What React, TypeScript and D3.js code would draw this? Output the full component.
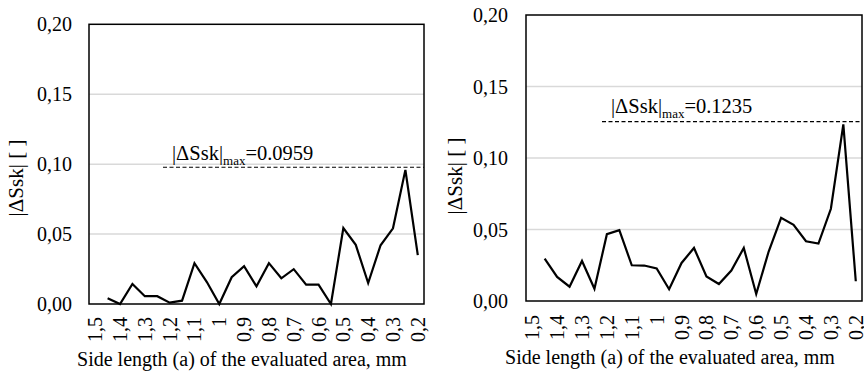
import React from "react";
import * as d3 from "d3";

const categories = ["1,5","1,45","1,4","1,35","1,3","1,25","1,2","1,15","1,1","1,05","1","0,95","0,9","0,85","0,8","0,75","0,7","0,65","0,6","0,55","0,5","0,45","0,4","0,35","0,3","0,25","0,2"];
const leftValues: (number | null)[] = [null,0.0041,0.0,0.0143,0.0056,0.0056,0.001,0.0024,0.0292,0.0157,0.0,0.0191,0.0271,0.0126,0.0292,0.0184,0.0249,0.0138,0.0138,0.0,0.0543,0.0423,0.015,0.042,0.0541,0.0959,0.035];
const rightValues: (number | null)[] = [null,0.0297,0.0168,0.01,0.028,0.0086,0.0467,0.0495,0.025,0.0248,0.0227,0.0082,0.0266,0.0371,0.0171,0.0119,0.0213,0.0371,0.0049,0.0346,0.0582,0.0533,0.0418,0.0402,0.0645,0.1235,0.0138];
const yTicks = [0, 0.05, 0.1, 0.15, 0.2];
const maxLabels = ["0.0959", "0.1235"];
const maxLevels = [0.0978, 0.1254];

const FONT = "Liberation Serif, Tinos, DejaVu Serif, Noto Serif, Times New Roman, serif";

type PanelProps = {
  values: (number | null)[];
  x0: number; x1: number; y0: number; y1: number;
  yLabelX: number; titleX: number; titleY: number; xTitleX: number; xTitleY: number; xLabelGap: number;
  maxLabel: string; maxLevel: number; dashStart: number; labelX: number; labelY: number;
};

function Panel(p: PanelProps) {
  const x = d3.scaleBand<string>().domain(categories).range([p.x0, p.x1]);
  const y = d3.scaleLinear().domain([0, 0.2]).range([p.y1, p.y0]);
  const cx = (c: string) => (x(c) as number) + x.bandwidth() / 2;
  const pts = categories.map((c, i) => ({ c, v: p.values[i] }));
  const line = d3.line<{ c: string; v: number | null }>()
    .defined(d => d.v !== null)
    .x(d => cx(d.c))
    .y(d => y(d.v as number));
  return (
    <g style={{ fontFamily: FONT }}>
      {yTicks.filter(t => t > 0 && t < 0.2).map(t => (
        <line key={t} x1={p.x0} x2={p.x1} y1={y(t)} y2={y(t)} stroke="#d9d9d9" strokeWidth={1.5} />
      ))}
      <line x1={p.dashStart} x2={p.x1} y1={y(p.maxLevel)} y2={y(p.maxLevel)} stroke="#000" strokeWidth={1.2} strokeDasharray="4,2.5" />
      <path d={line(pts) || ""} fill="none" stroke="#000" strokeWidth={2.2} strokeLinejoin="miter" />
      <rect x={p.x0} y={p.y0} width={p.x1 - p.x0} height={p.y1 - p.y0} fill="none" stroke="#000" strokeWidth={1.5} />
      {yTicks.map(t => (
        <text key={t} x={p.yLabelX} y={y(t)} textAnchor="end" dominantBaseline="central" fontSize={20}>
          {t.toFixed(2).replace(".", ",")}
        </text>
      ))}
      {categories.map((c, i) => i % 2 === 0 ? (
        <text key={c} transform={`translate(${cx(c)},${p.y1 + p.xLabelGap}) rotate(-90)`} textAnchor="end" dominantBaseline="central" fontSize={20}>
          {c}
        </text>
      ) : null)}
      <text transform={`translate(${p.titleX},${p.titleY}) rotate(-90)`} textAnchor="middle" dominantBaseline="central" fontSize={21}>
        |ΔSsk| [ ]
      </text>
      <text x={p.xTitleX} y={p.xTitleY} textAnchor="middle" fontSize={20}>
        Side length (a) of the evaluated area, mm
      </text>
      <text x={p.labelX} y={p.labelY} fontSize={20.5}>
        |ΔSsk|<tspan fontSize={13} dy={5}>max</tspan><tspan dy={-5}>={p.maxLabel}</tspan>
      </text>
    </g>
  );
}

export default function App() {
  return (
    <svg width={864} height={374} style={{ position: "absolute", left: 0, top: 0, background: "#fff" }}>
      <rect width={864} height={374} fill="#fff" />
      <Panel values={leftValues} x0={89} x1={424} y0={24.3} y1={304}
        yLabelX={72} titleX={16} titleY={178} xTitleX={242} xTitleY={366} xLabelGap={13}
        maxLabel={maxLabels[0]} maxLevel={maxLevels[0]} dashStart={163} labelX={172} labelY={160} />
      <Panel values={rightValues} x0={526} x1={862} y0={15} y1={301}
        yLabelX={508} titleX={455} titleY={176} xTitleX={670} xTitleY={364} xLabelGap={14}
        maxLabel={maxLabels[1]} maxLevel={maxLevels[1]} dashStart={602} labelX={611} labelY={113} />
    </svg>
  );
}
